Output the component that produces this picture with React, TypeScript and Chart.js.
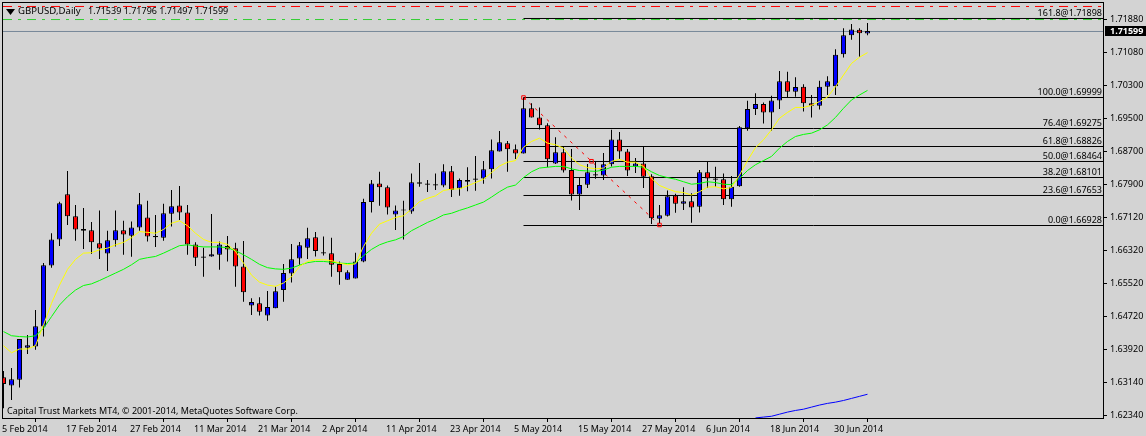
import React, { useEffect, useRef } from "react";
import { Chart, registerables } from "chart.js";

Chart.register(...registerables);

const FONT = "'Noto Sans'";
const FONT_SIZE = 9;
const BG = "#D3D3D3";

const opens = [1.6326,1.6306,1.6320,1.6397,1.6400,1.6448,1.6595,1.6658,1.6767,1.6714,1.6683,1.6680,1.6649,1.6624,1.6656,1.6680,1.6667,1.6687,1.6711,1.6666,1.6662,1.6720,1.6740,1.6723,1.6646,1.6617,1.6617,1.6621,1.6642,1.6637,1.6593,1.6499,1.6504,1.6475,1.6492,1.6536,1.6576,1.6612,1.6638,1.6663,1.6627,1.6625,1.6599,1.6561,1.6564,1.6605,1.6748,1.6793,1.6784,1.6718,1.6730,1.6725,1.6796,1.6793,1.6791,1.6788,1.6822,1.6781,1.6801,1.6805,1.6805,1.6827,1.6870,1.6890,1.6875,1.6865,1.6974,1.6952,1.6933,1.6841,1.6868,1.6825,1.6766,1.6790,1.6815,1.6812,1.6839,1.6899,1.6870,1.6834,1.6841,1.6810,1.6708,1.6715,1.6764,1.6744,1.6750,1.6737,1.6820,1.6805,1.6803,1.6755,1.6786,1.6926,1.6972,1.6984,1.6964,1.6993,1.7039,1.7014,1.7026,1.6986,1.6980,1.7026,1.7027,1.7104,1.7150,1.7163,1.71539];
const highs = [1.6341,1.6348,1.6418,1.6428,1.6488,1.6601,1.6673,1.6749,1.6823,1.6741,1.6734,1.6700,1.6728,1.6679,1.6728,1.6703,1.6701,1.6770,1.6751,1.6717,1.6744,1.6777,1.6787,1.6741,1.6651,1.6638,1.6719,1.6653,1.6666,1.6650,1.6654,1.6516,1.6519,1.6534,1.6544,1.6599,1.6647,1.6652,1.6686,1.6676,1.6665,1.6662,1.6605,1.6584,1.6626,1.6756,1.6801,1.6821,1.6788,1.6740,1.6751,1.6817,1.6842,1.6801,1.6817,1.6839,1.6835,1.6805,1.6832,1.6859,1.6847,1.6899,1.6919,1.6895,1.6887,1.69999,1.6986,1.6976,1.6938,1.6904,1.6882,1.6876,1.6807,1.6840,1.6846,1.6866,1.6922,1.6917,1.6876,1.6854,1.6882,1.6815,1.6741,1.6776,1.6768,1.6784,1.6769,1.6825,1.6846,1.6833,1.6817,1.6811,1.6931,1.6992,1.7010,1.6988,1.7004,1.7064,1.7062,1.7049,1.7032,1.7006,1.7040,1.7051,1.7116,1.7167,1.7177,1.7167,1.71796];
const lows = [1.6251,1.6271,1.6301,1.6382,1.6392,1.6424,1.6590,1.6642,1.6693,1.6655,1.6635,1.6623,1.6611,1.6582,1.6641,1.6621,1.6616,1.6679,1.6653,1.6640,1.6655,1.6689,1.6705,1.6621,1.6594,1.6568,1.6616,1.6585,1.6605,1.6544,1.6508,1.6476,1.6475,1.6462,1.6492,1.6508,1.6554,1.6597,1.6611,1.6617,1.6619,1.6568,1.6549,1.6561,1.6564,1.6603,1.6723,1.6739,1.6718,1.6681,1.6658,1.6720,1.6785,1.6772,1.6777,1.6784,1.6760,1.6763,1.6774,1.6775,1.6792,1.6805,1.6870,1.6821,1.6852,1.6865,1.6952,1.6923,1.6832,1.6840,1.6819,1.6752,1.6729,1.6782,1.6804,1.6801,1.6834,1.6852,1.6811,1.6818,1.6782,1.6695,1.6697,1.6713,1.6722,1.6729,1.6698,1.6723,1.6782,1.6785,1.6741,1.6737,1.6785,1.6920,1.6958,1.6937,1.6920,1.6972,1.7000,1.7002,1.6966,1.6952,1.6971,1.7006,1.7006,1.7096,1.7139,1.7098,1.71497];
const closes = [1.6310,1.6321,1.6418,1.6403,1.6449,1.6596,1.6658,1.6745,1.6714,1.6682,1.6679,1.6651,1.6636,1.6656,1.6680,1.6670,1.6687,1.6743,1.6665,1.6663,1.6721,1.6738,1.6723,1.6646,1.6614,1.6614,1.6622,1.6646,1.6634,1.6593,1.6531,1.6507,1.6484,1.6495,1.6533,1.6577,1.6610,1.6644,1.6661,1.6630,1.6624,1.6597,1.6579,1.6579,1.6605,1.6748,1.6793,1.6784,1.6735,1.6728,1.6728,1.6796,1.6792,1.6790,1.6788,1.6822,1.6777,1.6801,1.6797,1.6802,1.6827,1.6873,1.6892,1.6875,1.6865,1.6974,1.6952,1.6933,1.6851,1.6868,1.6824,1.6766,1.6789,1.6820,1.6812,1.6839,1.6899,1.6870,1.6824,1.6841,1.6809,1.6709,1.6716,1.6762,1.6744,1.6750,1.6735,1.6820,1.6805,1.6802,1.6755,1.6785,1.6928,1.6972,1.6984,1.6964,1.6993,1.7039,1.7014,1.7025,1.6986,1.6980,1.7026,1.7039,1.7103,1.7150,1.7164,1.7155,1.71599];

const fastMA = [1.6402,1.6385,1.6394,1.6394,1.6402,1.6452,1.6504,1.6548,1.6586,1.6610,1.6625,1.6626,1.6633,1.6637,1.6645,1.6651,1.6662,1.6677,1.6675,1.6673,1.6682,1.6697,1.6703,1.6691,1.6673,1.6658,1.6651,1.6651,1.6646,1.6629,1.6601,1.6572,1.6555,1.6548,1.6545,1.6553,1.6568,1.6593,1.6605,1.6609,1.6609,1.6607,1.6601,1.6597,1.6599,1.6641,1.6673,1.6695,1.6703,1.6711,1.6715,1.6731,1.6749,1.6757,1.6763,1.6776,1.6779,1.6780,1.6787,1.6795,1.6803,1.6819,1.6835,1.6844,1.6848,1.6880,1.6894,1.6902,1.6890,1.6886,1.6878,1.6854,1.6838,1.6831,1.6828,1.6830,1.6846,1.6851,1.6844,1.6844,1.6834,1.6805,1.6788,1.6780,1.6773,1.6771,1.6765,1.6773,1.6784,1.6785,1.6780,1.6783,1.6813,1.6848,1.6879,1.6898,1.6922,1.6950,1.6964,1.6976,1.6976,1.6981,1.6990,1.7001,1.7026,1.7054,1.7082,1.7097,1.7108];
const midMA = [1.6436,1.6426,1.6424,1.6423,1.6426,1.6444,1.6472,1.6500,1.6520,1.6536,1.6547,1.6551,1.6559,1.6568,1.6577,1.6586,1.6597,1.6610,1.6614,1.6617,1.6625,1.6634,1.6643,1.6645,1.6642,1.6640,1.6640,1.6640,1.6638,1.6631,1.6621,1.6610,1.6598,1.6590,1.6587,1.6586,1.6589,1.6596,1.6602,1.6605,1.6605,1.6603,1.6601,1.6600,1.6601,1.6619,1.6634,1.6645,1.6652,1.6657,1.6665,1.6679,1.6689,1.6699,1.6707,1.6717,1.6721,1.6728,1.6734,1.6741,1.6748,1.6760,1.6773,1.6784,1.6789,1.6807,1.6821,1.6830,1.6832,1.6834,1.6834,1.6828,1.6824,1.6823,1.6822,1.6825,1.6832,1.6834,1.6834,1.6834,1.6832,1.6821,1.6812,1.6807,1.6803,1.6797,1.6791,1.6793,1.6797,1.6795,1.6791,1.6790,1.6805,1.6824,1.6838,1.6848,1.6858,1.6878,1.6894,1.6906,1.6911,1.6914,1.6922,1.6934,1.6952,1.6974,1.6994,1.7006,1.7017];
const slowMAStart = 94;
const slowMA = [1.6228,1.6230,1.6232,1.6237,1.6242,1.6246,1.6249,1.6254,1.6259,1.6263,1.6266,1.6270,1.6275,1.6280,1.6285];

const fibLabels = ["161.8@1.71898","100.0@1.69999","76.4@1.69275","61.8@1.68826","50.0@1.68464","38.2@1.68101","23.6@1.67653","0.0@1.66928"];
const fibLineLevels = [1.719026,1.699993,1.692525,1.688188,1.684575,1.68072,1.676384,1.669156];
const fibStart = 65;
const trendX = [65,73.5,82];
const trendY = [1.69999,1.684635,1.66928];
const redLevel = 1.72192;
const greenLevel = 1.71878;
const closeLevel = 1.715894;
const lastCloseText = "1.71599";

const yTicks = [1.7188,1.7108,1.703,1.695,1.687,1.679,1.6712,1.6632,1.6552,1.6472,1.6392,1.6314,1.6234];
const xTickLabels = ["5 Feb 2014","17 Feb 2014","27 Feb 2014","11 Mar 2014","21 Mar 2014","2 Apr 2014","11 Apr 2014","23 Apr 2014","5 May 2014","15 May 2014","27 May 2014","6 Jun 2014","18 Jun 2014","30 Jun 2014"];
const xTickStep = 8;
const titleName = "GBPUSD,Daily";
const titleValues = "1.71539 1.71796 1.71497 1.71599";
const copyright = "Capital Trust Markets MT4, © 2001-2014, MetaQuotes Software Corp.";

const X_MIN = -0.0625;
const X_MAX = 137.4375;

const hLine = (x0: number, x1: number, y: number) => [{ x: x0, y }, { x: x1, y }];

const overlay = {
  id: "overlay",
  afterDraw(chart: any) {
    const { ctx, chartArea: a, scales } = chart;
    const y = scales.y;
    ctx.save();
    ctx.strokeStyle = "#000";
    ctx.lineWidth = 1;
    ctx.strokeRect(a.left - 0.5, a.top - 0.5, a.right - a.left + 1, a.bottom - a.top + 1);

    ctx.fillStyle = "#000";
    ctx.font = `${FONT_SIZE}px ${FONT}`;
    ctx.textBaseline = "alphabetic";
    ctx.textAlign = "right";
    fibLabels.forEach((t, i) => {
      ctx.fillText(t, a.right - 1, y.getPixelForValue(fibLineLevels[i]) - 2.5);
    });

    ctx.textAlign = "left";
    ctx.fillText(titleValues, 88, 14);
    ctx.fillText(copyright, 7, 414);
    ctx.font = `9.6px ${FONT}`;
    ctx.fillText(titleName, 18, 14);

    ctx.beginPath();
    ctx.moveTo(6, 9);
    ctx.lineTo(15, 9);
    ctx.lineTo(10.5, 15);
    ctx.closePath();
    ctx.fill();

    const py = y.getPixelForValue(closeLevel);
    ctx.fillStyle = "#000";
    ctx.fillRect(a.right + 2, Math.floor(py) - 5, 41, 10);
    ctx.fillStyle = "#fff";
    ctx.font = `bold ${FONT_SIZE}px ${FONT}`;
    ctx.textBaseline = "middle";
    ctx.fillText(lastCloseText, a.right + 7, py);
    ctx.restore();
  },
};

export default function App() {
  const ref = useRef<HTMLCanvasElement>(null);

  useEffect(() => {
    if (!ref.current) return;
    const idx = opens.map((_, i) => i);
    const candleColor = idx.map((i) => (closes[i] >= opens[i] ? "#0000FF" : "#FF0000"));
    const chart = new Chart(ref.current, {
      type: "bar",
      data: {
        datasets: [
          ...fibLineLevels.map((p, i) => ({
            type: "line" as const,
            label: fibLabels[i],
            data: hLine(fibStart, X_MAX, p),
            borderColor: "#000",
            borderWidth: 1,
            pointRadius: 0,
            order: 10,
          })),
          {
            type: "line" as const,
            label: "green level",
            data: hLine(X_MIN, X_MAX, greenLevel),
            borderColor: "#32CD32",
            borderWidth: 1,
            borderDash: [9, 6, 3, 6],
            pointRadius: 0,
            order: 11,
          },
          {
            type: "line" as const,
            label: "red level",
            data: hLine(X_MIN, X_MAX, redLevel),
            borderColor: "#FF0000",
            borderWidth: 1,
            borderDash: [9, 6, 3, 6],
            pointRadius: 0,
            order: 11,
          },
          {
            type: "line" as const,
            label: "close",
            data: hLine(X_MIN, X_MAX, closeLevel),
            borderColor: "#778899",
            borderWidth: 1,
            pointRadius: 0,
            order: 11,
          },
          {
            type: "line" as const,
            label: "trend",
            data: trendX.map((x, i) => ({ x, y: trendY[i] })),
            borderColor: "#FF0000",
            borderWidth: 1,
            borderDash: [3, 5],
            pointRadius: 2.5,
            pointStyle: "rect",
            pointBorderColor: "#FF0000",
            pointBackgroundColor: "rgba(0,0,0,0)",
            pointBorderWidth: 1,
            order: 9,
          },
          {
            type: "bar" as const,
            label: "wick",
            data: idx.map((i) => ({ x: i, y: [lows[i], highs[i]] })),
            backgroundColor: "#000",
            borderWidth: 0,
            barThickness: 1,
            grouped: false,
            inflateAmount: 0,
            order: 6,
          },
          {
            type: "bar" as const,
            label: "body",
            data: idx.map((i) => ({ x: i, y: [opens[i], closes[i]] })),
            backgroundColor: candleColor,
            borderColor: "#000",
            borderWidth: 1,
            borderSkipped: false,
            barThickness: 5,
            grouped: false,
            inflateAmount: 0,
            order: 5,
          },
          {
            type: "line" as const,
            label: "MA slow",
            data: slowMA.map((y, i) => ({ x: slowMAStart + i, y })),
            borderColor: "#0000FF",
            borderWidth: 1,
            pointRadius: 0,
            order: 3,
          },
          {
            type: "line" as const,
            label: "MA mid",
            data: midMA.map((y, i) => ({ x: i, y })),
            borderColor: "#00FF00",
            borderWidth: 1,
            pointRadius: 0,
            order: 2,
          },
          {
            type: "line" as const,
            label: "MA fast",
            data: fastMA.map((y, i) => ({ x: i, y })),
            borderColor: "#FFFF00",
            borderWidth: 1,
            pointRadius: 0,
            order: 1,
          },
        ] as any,
      },
      options: {
        responsive: false,
        animation: false,
        devicePixelRatio: 1,
        layout: { autoPadding: false, padding: { left: 3, top: 3, right: 0, bottom: 0 } },
        plugins: { legend: { display: false }, tooltip: { enabled: false }, title: { display: false } },
        scales: {
          x: {
            type: "linear",
            min: X_MIN,
            max: X_MAX,
            position: "bottom",
            offset: false,
            afterBuildTicks: (s: any) => {
              s.ticks = xTickLabels.map((_, i) => ({ value: i * xTickStep }));
            },
            afterFit: (s: any) => {
              s.height = 18;
              s.paddingLeft = 0;
              s.paddingRight = 0;
            },
            border: { display: false },
            grid: { drawOnChartArea: false, drawTicks: true, tickLength: 4, color: "#000", lineWidth: 1 },
            ticks: {
              autoSkip: false,
              maxRotation: 0,
              minRotation: 0,
              align: "start",
              padding: 2,
              labelOffset: -1.5,
              color: "#000",
              font: { family: FONT, size: FONT_SIZE },
              callback: (_v: any, i: number) => xTickLabels[i],
            },
          },
          y: {
            type: "linear",
            position: "right",
            min: 1.62278,
            max: 1.72276,
            afterBuildTicks: (s: any) => {
              s.ticks = yTicks.map((value) => ({ value }));
            },
            afterFit: (s: any) => {
              s.width = 43;
              s.paddingTop = 0;
              s.paddingBottom = 0;
            },
            border: { display: false },
            grid: { drawOnChartArea: false, drawTicks: true, tickLength: 4, color: "#000", lineWidth: 1 },
            ticks: {
              autoSkip: false,
              padding: 3,
              color: "#000",
              font: { family: FONT, size: FONT_SIZE },
              callback: (v: any) => Number(v).toFixed(5),
            },
          },
        },
      } as any,
      plugins: [overlay],
    });
    return () => chart.destroy();
  }, []);

  return (
    <div style={{ position: "fixed", left: 0, top: 0, width: 1146, height: 436, background: BG }}>
      <canvas ref={ref} width={1146} height={436} style={{ display: "block" }} />
    </div>
  );
}
